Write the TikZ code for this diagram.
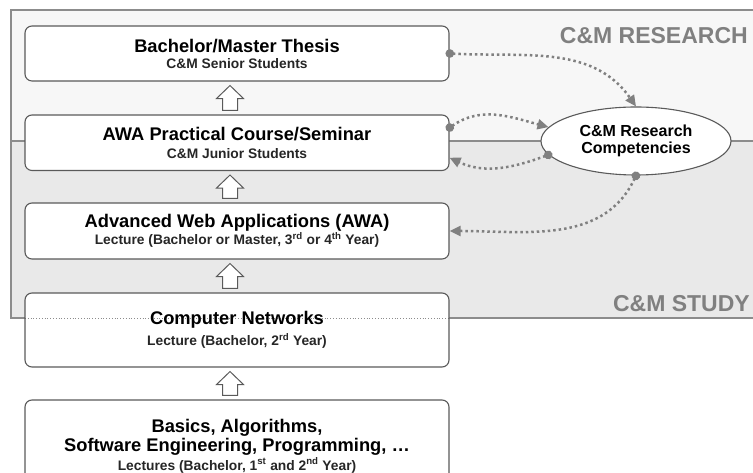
\documentclass[tikz,border=0pt]{standalone}
\usepackage{fontspec}
\setmainfont{Liberation Sans}
\usetikzlibrary{positioning,calc,arrows.meta,shapes.geometric}
\definecolor{researchbg}{HTML}{F7F7F7}
\definecolor{studybg}{HTML}{E9E9E9}
\definecolor{frameline}{HTML}{8C8C8C}
\definecolor{linkgray}{HTML}{808080}
\definecolor{boxline}{HTML}{5A5A5A}
\newcommand{\coursetitle}{\fontsize{18.3}{16}\selectfont\bfseries}
\newcommand{\coursesub}{\fontsize{13.8}{16}\selectfont\bfseries\color{black!85}}
\tikzset{
  course/.style     = {rectangle,rounded corners=7pt,draw=boxline,line width=1.1pt,
                       fill=white,minimum width=424pt,align=center,inner sep=0pt,
                       font=\fontsize{14.6}{16}\selectfont},
  competence/.style = {ellipse,draw=boxline,line width=1.1pt,fill=white,
                       minimum width=190pt,minimum height=68pt,align=center,inner sep=0pt,
                       font=\fontsize{16}{17}\selectfont\bfseries},
  arealabel/.style  = {anchor=base east,inner sep=0pt,text=linkgray,
                       font=\fontsize{23}{26}\selectfont\bfseries},
  blockarrow/.style = {draw=boxline,line width=1pt,fill=white},
  link/.style       = {draw=linkgray,line width=2.5pt,dash pattern=on 2.5pt off 3pt,
                       arrows={Circle[length=8.5pt]-Triangle[length=11pt,width=10pt]},
                       shorten <=-4pt}
}
\newcommand{\DrawCourse}[6][]{%
  % rounded box of one course level: title line(s) and who takes it
  \node[course,minimum height=#4,#1] (#2) at #3 {\coursetitle #5\\\coursesub #6};
}
\newcommand{\BlockArrow}[2]{%
  % hollow up arrow from the lower box #1 to the upper box #2
  \path[blockarrow] let \p1 = ($(#1.north)+(-7,4)$), \p2 = ($(#2.south)+(-7,-4)$) in
    (\x1-7.5pt,\y1) -- (\x1+7.5pt,\y1) -- (\x1+7.5pt,\y2-13pt) -- (\x1+13.5pt,\y2-13pt)
    -- (\x1,\y2) -- (\x1-13.5pt,\y2-13pt) -- (\x1-7.5pt,\y2-13pt) -- cycle;
}

\begin{document}
\begin{tikzpicture}[x=1pt,y=1pt]
  \useasboundingbox (0,0) rectangle (753,473);

  % research and study areas
  \fill[researchbg] (11,332) rectangle (753,463);
  \fill[studybg] (11,155) rectangle (753,332);
  \draw[frameline,line width=1.2pt] (753,463) -- (11,463) -- (11,155) -- (753,155);
  \draw[frameline,line width=1.2pt] (11,332) -- (753,332);
  \coordinate (studyedge) at (11,155);
  \node[arealabel] (research) at (748,429) {C\&M RESEARCH};
  \node[arealabel] (study) at (750,161) {C\&M STUDY};

  % course levels
  \DrawCourse{thesis}{(237,419.5)}{55pt}
    {Bachelor/Master Thesis}{C\&M Senior Students}
  \DrawCourse[font=\fontsize{14.6}{18}\selectfont]{prac}{(237,330.25)}{55.5pt}
    {AWA Practical Course/Seminar}{C\&M Junior Students}
  \DrawCourse[font=\fontsize{14.6}{17}\selectfont]{awa}{(237,242)}{56pt}
    {Advanced Web Applications (AWA)}
    {Lecture (Bachelor or Master, 3\textsuperscript{rd} or 4\textsuperscript{th} Year)}
  \DrawCourse[font=\fontsize{14.6}{20.5}\selectfont,
    path picture={\draw[frameline,line width=0.8pt,dotted]
      (path picture bounding box.west |- studyedge) -- (path picture bounding box.east |- studyedge);}]
    {net}{(237,143)}{74pt}
    {Computer Networks}{Lecture (Bachelor, 2\textsuperscript{rd} Year)}
  \DrawCourse[font=\fontsize{14.6}{19}\selectfont]{basics}{(237,27)}{92pt}
    {Basics, Algorithms,\\\coursetitle Software Engineering, Programming, …}
    {Lectures (Bachelor, 1\textsuperscript{st} and 2\textsuperscript{nd} Year)}

  \BlockArrow{basics}{net}
  \BlockArrow{net}{awa}
  \BlockArrow{awa}{prac}
  \BlockArrow{prac}{thesis}

  % research competencies and their links
  \node[competence] (comp) at (636,332) {C\&M Research\\Competencies};

  \draw[link] (thesis.east) to[out=-3,in=125] (comp.north);
  \draw[link] ($(prac.east)+(0,15)$) to[out=35,in=165] (comp.171);
  \draw[link] (comp.189) to[out=200,in=-25] ($(prac.east)+(0,-15)$);
  \draw[link] (comp.south) to[out=-115,in=0] (awa.east);
\end{tikzpicture}
\end{document}
